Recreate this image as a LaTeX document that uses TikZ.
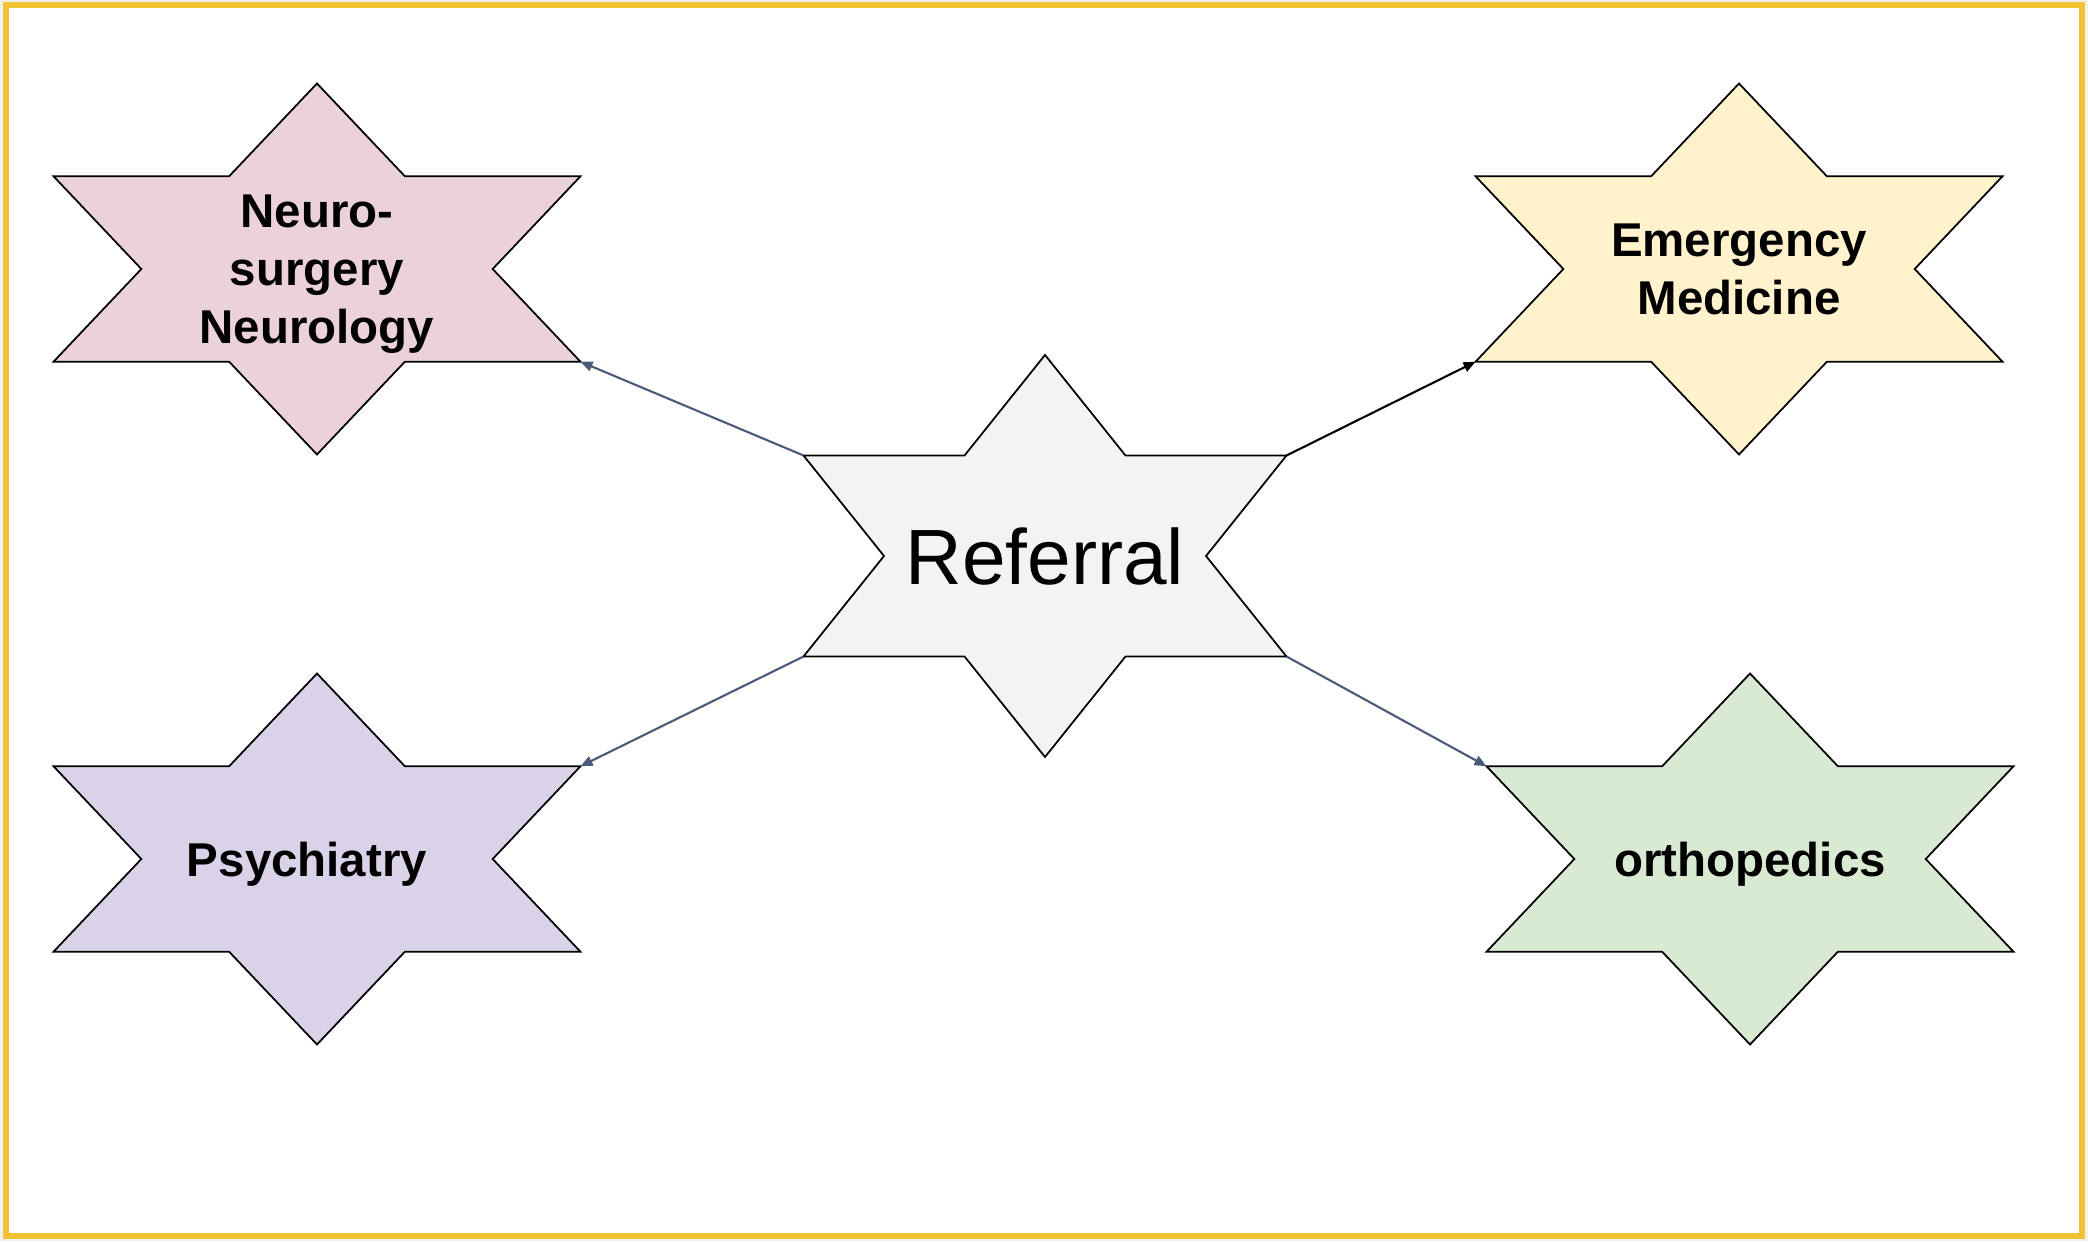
\documentclass[tikz,border=0pt]{standalone}
\usepackage{fontspec}
\setmainfont{Liberation Sans}
\usetikzlibrary{arrows.meta}
\usepackage{xcolor}
\definecolor{neuropink}{HTML}{EAD1DC}
\definecolor{emergyellow}{HTML}{FFF2CC}
\definecolor{psychlilac}{HTML}{D9D2E9}
\definecolor{orthogreen}{HTML}{D9EAD3}
\definecolor{refgray}{HTML}{F3F3F3}
\definecolor{framegold}{HTML}{F1C232}
\definecolor{linkslate}{HTML}{4A5B78}
\tikzset{
	starline/.style={draw=black, line width=0.5pt, line join=miter},
	deptlabel/.style={inner sep=0pt, outer sep=0pt, text depth=0pt, align=center, font=\fontsize{13.5}{16.5}\selectfont\bfseries},
	link/.style={-{Triangle[length=1.2mm,width=1mm]}, line width=0.6pt, draw=linkslate},
}

\begin{document}
\begin{tikzpicture}
			\useasboundingbox (0,0) rectangle (20.88,12.41);
			\fill[black!6] (0,0) rectangle (20.88,12.41);
			\draw[framegold, line width=0.06cm, fill=white] (0.063,0.05) rectangle (20.82,12.357);
			
			% department stars
			\foreach \nm/\cx/\cy/\col/\txt in {neuro/3.17/9.72/neuropink/{Neuro-\\surgery\\Neurology}, emerg/17.39/9.72/emergyellow/{Emergency\\Medicine}, psych/3.17/3.82/psychlilac/{Psychiatry\hspace*{0.2cm}}, ortho/17.50/3.82/orthogreen/{orthopedics}}{
				\def\w{5.27};
				\def\h{3.71};
				\filldraw[starline, fill=\col, shift={(\cx,\cy)}] (-\w/2,\h/4) -- (-\w/6,\h/4) -- (0,\h/2) -- (\w/6,\h/4) -- (\w/2,\h/4) -- (\w/3,0) -- (\w/2,-\h/4) -- (\w/6,-\h/4) -- (0,-\h/2) -- (-\w/6,-\h/4) -- (-\w/2,-\h/4) -- (-\w/3,0) -- cycle;
				\node[deptlabel, minimum width=\w cm, minimum height={\h*0.5cm}] (\nm) at (\cx,\cy) {\txt};
			}
			
			% referral hub
			\def\w{4.83};
			\def\h{4.02};
			\filldraw[starline, fill=refgray, shift={(10.45,6.85)}] (-\w/2,\h/4) -- (-\w/6,\h/4) -- (0,\h/2) -- (\w/6,\h/4) -- (\w/2,\h/4) -- (\w/3,0) -- (\w/2,-\h/4) -- (\w/6,-\h/4) -- (0,-\h/2) -- (-\w/6,-\h/4) -- (-\w/2,-\h/4) -- (-\w/3,0) -- cycle;
			\node[inner sep=0pt, outer sep=0pt, font=\fontsize{22.3}{26}\selectfont, minimum width=\w cm, minimum height={\h*0.5cm}] (ref) at (10.45,6.85) {Referral};
			
			\draw[link] (ref.north west) -- (neuro.south east);
			\draw[link, draw=black] (ref.north east) -- (emerg.south west);
			\draw[link] (ref.south west) -- (psych.north east);
			\draw[link] (ref.south east) -- (ortho.north west);
			\end{tikzpicture}
\end{document}
